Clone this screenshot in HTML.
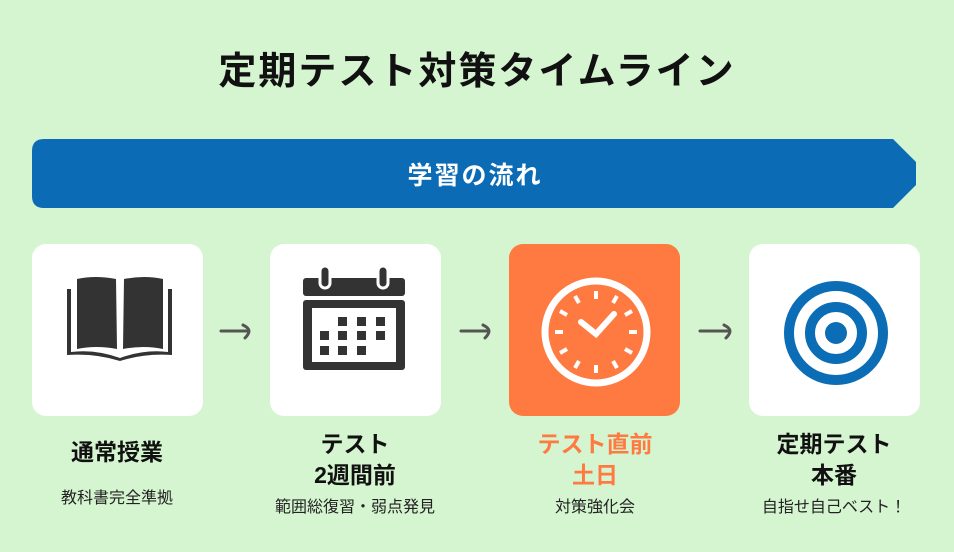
<!DOCTYPE html>
<html><head><meta charset="utf-8"><style>
body{margin:0;width:954px;height:552px;background:#d5f5d0;position:relative;overflow:hidden;font-family:"Liberation Sans","Noto Sans CJK JP",sans-serif}
.a{position:absolute}
.card{position:absolute;top:244px;width:171px;height:172px;border-radius:14px;background:#fff}
.t{position:absolute;width:240px;text-align:center;font-weight:bold;font-size:23px;line-height:31px;color:#111}
.s{position:absolute;width:240px;text-align:center;font-size:16px;color:#222}
</style></head><body>
<div class="a" style="left:0;width:954px;top:42px;text-align:center;font-size:38px;letter-spacing:2px;font-weight:bold;color:#111;line-height:60px">定期テスト対策タイムライン</div>
<svg class="a" style="left:0;top:0" width="954" height="552">
<path d="M44 139 H893 L916 162 V185 L893 208 H44 Q32 208 32 196 V151 Q32 139 44 139 Z" fill="#0b6bb4"/>
<text x="475" y="184" text-anchor="middle" font-size="25" letter-spacing="2" font-weight="bold" fill="#fff" font-family="Liberation Sans, Noto Sans CJK JP, sans-serif">学習の流れ</text>
</svg>
<div class="card" style="left:32px"></div>
<div class="card" style="left:270px"></div>
<div class="card" style="left:509px;background:#ff7a40"></div>
<div class="card" style="left:749px"></div>
<svg class="a" style="left:0;top:0" width="954" height="552">
<g fill="#333">
<path d="M77 279 Q95 275 116 279 L117 349 Q96 345 77 349 Z"/>
<path d="M124 279 Q145 275 163 279 L163 349 Q144 345 123 349 Z"/>
<path d="M67 289 H71 V352 Q95 349 120 358 Q145 349 168 352 V289 H172 V355 Q145 353 120 361 Q95 353 67 355 Z"/>
</g>
<g fill="#333">
<rect x="303" y="278" width="102" height="18" rx="3"/>
<rect x="303" y="300" width="102" height="70" rx="3"/>
<rect x="312" y="308" width="84" height="54" fill="#fff"/>
<rect x="320" y="266" width="10" height="22" rx="5" stroke="#fff" stroke-width="3"/>
<rect x="378" y="266" width="10" height="22" rx="5" stroke="#fff" stroke-width="3"/>
<g>
<rect x="338" y="317" width="9" height="9"/><rect x="357" y="317" width="9" height="9"/><rect x="376" y="317" width="9" height="9"/>
<rect x="320" y="331" width="9" height="9"/><rect x="338" y="331" width="9" height="9"/><rect x="357" y="331" width="9" height="9"/><rect x="376" y="331" width="9" height="9"/>
<rect x="320" y="346" width="9" height="9"/><rect x="338" y="346" width="9" height="9"/><rect x="357" y="346" width="9" height="9"/>
</g></g>
<g stroke="#fff" fill="none" stroke-linecap="round">
<circle cx="596" cy="332" r="51" stroke-width="7"/>
<g stroke-width="4" stroke-linecap="butt">
<line x1="596" y1="291" x2="596" y2="299"/><line x1="596" y1="365" x2="596" y2="373"/>
<line x1="555" y1="332" x2="563" y2="332"/><line x1="629" y1="332" x2="637" y2="332"/>
<line x1="575" y1="296" x2="579" y2="303"/><line x1="617" y1="296" x2="613" y2="303"/>
<line x1="575" y1="368" x2="579" y2="361"/><line x1="617" y1="368" x2="613" y2="361"/>
<line x1="560" y1="311" x2="567" y2="315"/><line x1="632" y1="311" x2="625" y2="315"/>
<line x1="560" y1="353" x2="567" y2="349"/><line x1="632" y1="353" x2="625" y2="349"/>
</g>
<polyline points="581,322 596,334 614,314" stroke-width="6"/>
</g>
<g fill="none" stroke="#0b6db5">
<circle cx="836" cy="333" r="47" stroke-width="10"/>
<circle cx="836" cy="333" r="26" stroke-width="10"/>
</g>
<circle cx="836" cy="333" r="11" fill="#0b6db5"/>
<g stroke="#555" stroke-width="3" fill="none" stroke-linecap="round">
<line x1="221" y1="331" x2="248" y2="331"/><path d="M243 325 Q249 328 249 331 Q249 334 245 338"/>
<line x1="461" y1="331" x2="488" y2="331"/><path d="M483 325 Q489 328 489 331 Q489 334 485 338"/>
<line x1="700" y1="331" x2="729" y2="331"/><path d="M724 325 Q730 328 730 331 Q730 334 726 338"/>
</g>
</svg>
<div class="t" style="left:-3px;top:437px">通常授業</div>
<div class="s" style="left:-3px;top:484px">教科書完全準拠</div>
<div class="t" style="left:235px;top:429px">テスト<br>2週間前</div>
<div class="s" style="left:235px;top:493px">範囲総復習・弱点発見</div>
<div class="t" style="left:475px;top:429px;color:#ff7a40">テスト直前<br>土日</div>
<div class="s" style="left:475px;top:493px">対策強化会</div>
<div class="t" style="left:714px;top:429px">定期テスト<br>本番</div>
<div class="s" style="left:714px;top:493px">自指せ自己ベスト！</div>
</body></html>
